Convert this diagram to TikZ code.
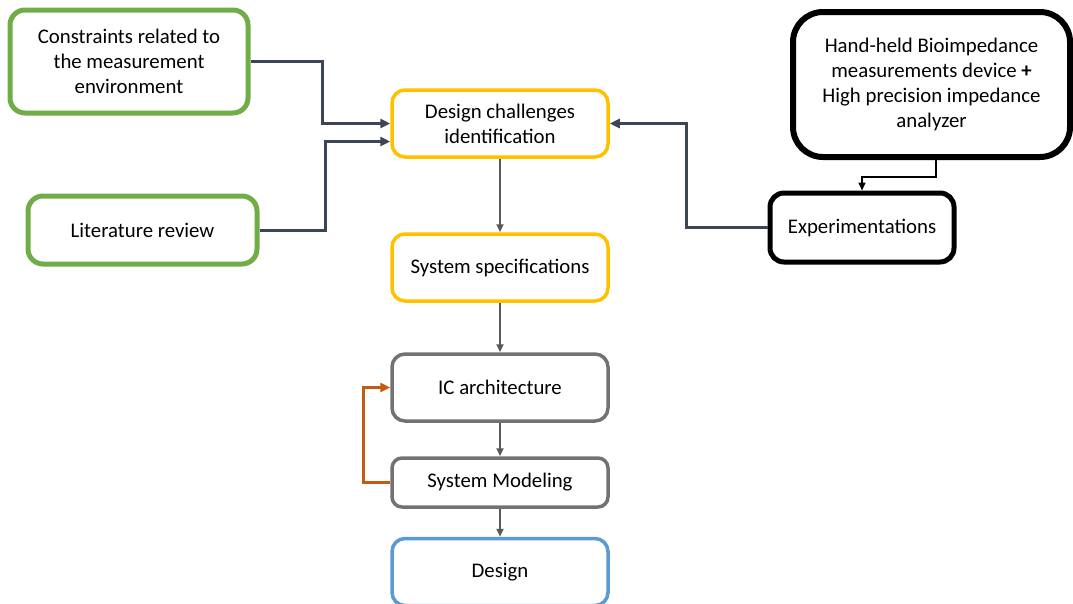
\documentclass[tikz,border=0pt]{standalone}
\usepackage{fontspec}
\setmainfont{Carlito}
\usepackage{tikz}
\usetikzlibrary{arrows.meta,positioning}
\definecolor{boxgreen}{HTML}{70AD47}
\definecolor{boxyellow}{HTML}{FFC000}
\definecolor{boxgray}{HTML}{767171}
\definecolor{boxblue}{HTML}{5B9BD5}
\definecolor{linkdark}{HTML}{3B4556}
\definecolor{linkgray}{HTML}{595959}
\definecolor{looporange}{HTML}{C55A11}

\begin{document}
\begin{tikzpicture}[x=1pt,y=-1pt]
    \tikzset{block/.style = {shape=rectangle,draw,align=center,fill=white,
        minimum width=216pt,minimum height=67pt,rounded corners=13pt,
        line width=3.5pt,font=\fontsize{20.8}{25}\selectfont}}
    \tikzset{input/.style = {block,draw=boxgreen,line width=5pt,rounded corners=15pt}}
    \tikzset{stage/.style = {block,draw=boxyellow}}
    \tikzset{model/.style = {block,draw=boxgray}}
    \tikzset{link/.style = {-{Triangle[length=10pt,width=9pt]},line width=3pt,draw=linkdark}}
    \tikzset{flow/.style = {-{Triangle[length=8pt,width=7pt]},line width=2pt,draw=linkgray}}
    \useasboundingbox (0,0) rectangle (1073,603);
    % vertices
    \node[input,minimum width=238pt,minimum height=103pt] (cons) at (129,61.5) {Constraints related to\\the measurement\\environment};
    \node[input,minimum width=229pt,minimum height=68pt] (lit) at (142.5,230) {Literature review};
    \node[stage] (chal) at (500,123.5) {Design challenges\\identification};
    \node[stage] (spec) at (500,267.5) {System specifications};
    \node[model] (ic) at (500,387.5) {IC architecture};
    \node[model,minimum height=49pt,rounded corners=10pt] (sim) at (500,482.5) {System Modeling};
    \node[block,draw=boxblue] (des) at (500,572) {Design};
    \node[block,line width=6pt,minimum width=277pt,minimum height=145pt,rounded corners=30pt] (dev) at (931.5,84.5) {Hand-held Bioimpedance\\measurements device \textbf{+}\\High precision impedance\\analyzer};
    \node[block,line width=5pt,minimum width=184pt,minimum height=69pt,rounded corners=14pt] (exp) at (862,227.5) {Experimentations};
    % edges
    \draw[link] (cons.east) -- ++(72,0) |- (chal.west);
    \draw[link] (lit.east) -- ++(66,0) |- ([yshift=-18pt]chal.west);
    \draw[link] (exp.west) -- ++(-81,0) |- (chal.east);
    \draw[-{Triangle[length=8pt,width=7pt]},line width=1.5pt] ([xshift=4.5pt]dev.south) -- ++(0,17) -| (exp.north);
    \draw[flow] (chal) -- (spec);
    \draw[flow] (spec) -- (ic);
    \draw[flow] (ic) -- (sim);
    \draw[flow] (sim) -- (des);
    \draw[link,draw=looporange] (sim.west) -- ++(-27,0) |- (ic.west);
\end{tikzpicture}
\end{document}
